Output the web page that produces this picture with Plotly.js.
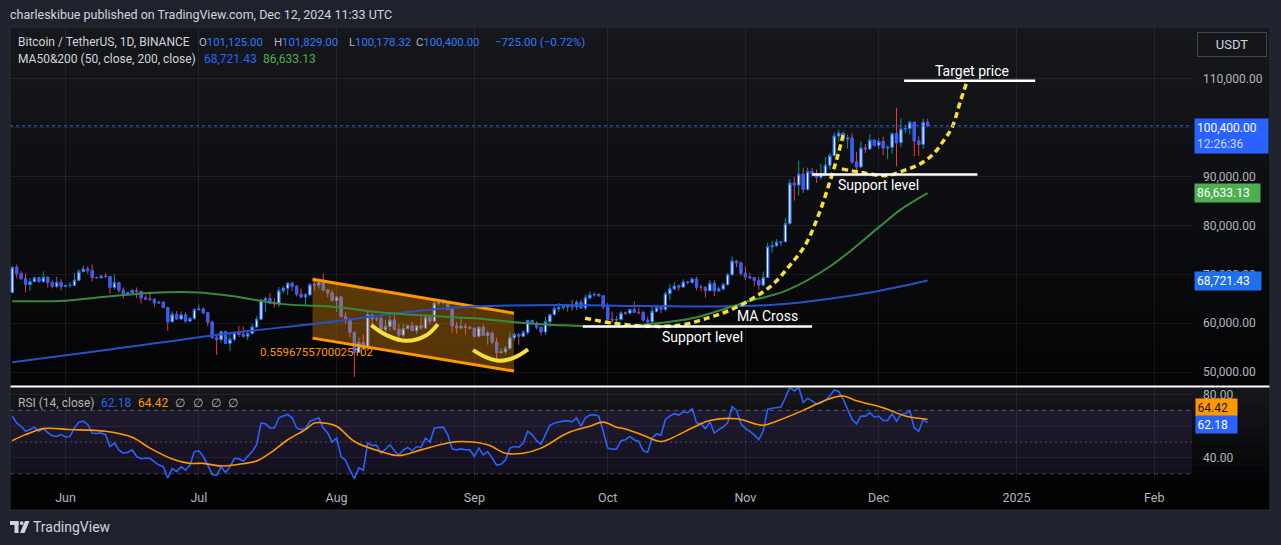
<!DOCTYPE html>
<html>
<head>
<meta charset="utf-8">
<script src="https://cdn.plot.ly/plotly-3.0.1.min.js"></script>
<style>
html,body{margin:0;padding:0;background:#1f222c;overflow:hidden;}
#chart{width:1281px;height:545px;}
</style>
</head>
<body>
<div id="chart"></div>
<script>
// ================= DATA =================
// Daily BTC/USDT candles, 2024-05-20 .. 2024-12-12
const firstDay = [2024, 4, 20];
const open = [
66270,71446,70136,69122,67929,68526,69265,68518,69394,68296,67579,68364,
67491,67706,67751,68804,70567,71082,70757,69342,69305,69648,69540,67314,68263,66773,66043,66228,66676,66504,65175,64974,64869,64143,64262,63210,60277,61806,60864,61706,60427,60986,
62772,62899,62135,60208,57050,56628,58230,55857,56714,58050,57725,57339,57889,59204,60797,64724,65043,64087,63987,66660,67139,68165,67532,65936,65372,65777,67912,67813,68255,66819,66201,
64619,65357,61415,60680,58116,53991,56034,55027,61710,60880,60945,58719,59354,60610,58739,57560,58894,59478,58483,59493,59012,61159,60381,64094,64178,64220,62834,59416,59034,59359,59123,
58974,57301,59132,57487,57970,56160,53962,54160,54869,57043,57650,57343,58127,60571,60005,59182,58213,60314,61759,62947,63201,63348,63578,63339,64262,63143,65181,65790,65887,65604,
63327,60805,60650,60752,62086,62058,62819,62224,62160,60636,60274,62445,63193,62851,66047,67041,67612,67399,68418,68362,69002,67367,67362,66653,68161,66642,67014,67929,69907,72720,72339,
70215,69482,69289,68742,67811,69359,75639,75904,76538,76688,80370,88647,88265,90487,87386,91032,90586,89855,90464,92310,94286,98317,98892,97672,97900,93010,91965,95863,95643,97460,
96407,97185,95840,96002,98768,96945,99740,99831,101109,97276,96593,101125
];
const high = [
71515,71980,70625,70220,69250,69560,69510,70600,69560,68900,69500,69000,
67860,68410,70288,71063,71758,71625,71997,69582,69850,70195,69567,69999,68449,67320,66402,66998,67298,66588,65727,66483,65066,64546,64524,63369,62435,62487,62389,62225,61224,63058,
63862,63288,62285,60498,57546,58475,58449,58236,58296,59470,59359,58526,59850,61420,64900,65388,66128,65133,67386,67598,68366,68480,67800,67102,66175,68200,69399,68318,70079,66987,66810,
65659,65596,62198,61117,58305,57040,57726,62745,61800,61473,61858,60680,61572,61800,59850,59817,59700,60262,59618,61396,61820,61400,64955,64521,65000,64481,63212,60234,61166,59944,59462,
59063,59425,59809,58519,58327,56995,54850,55318,58088,58044,57994,58588,60670,60656,60381,59210,61320,61786,63850,64133,63559,64000,64745,64688,64817,65839,66498,66260,66076,65623,
64130,62392,61469,62484,62370,62975,64478,63200,62543,61321,63417,63480,63285,66500,67950,68424,67939,68969,68668,69400,69520,67836,67472,68850,68771,67454,68332,70270,73620,72961,72700,
71632,70338,69389,69480,70577,76460,76849,77199,76770,81500,89530,89940,93265,91790,91850,91779,91449,92594,94002,94831,98984,99588,98900,98564,98871,94973,97208,96650,98693,97463,
97836,98130,96305,99000,104088,101898,100439,101350,101215,98270,101895,101829
];
const low = [
66060,69160,68900,66300,66600,68390,68240,68230,67280,67125,67120,66670,
67390,67257,67612,68567,70383,70119,68500,69183,69132,69230,66051,66903,66251,65057,65872,66035,65130,64060,64694,64547,63379,63943,63178,58402,60240,60712,60606,60063,60383,60712,
62497,61806,59400,56771,53485,56018,55725,54260,56289,57157,57052,56542,57756,59204,60632,62373,63854,63238,63300,66222,65777,66573,65441,65111,63456,65754,66676,67066,66483,65323,64532,
62302,61130,59850,57122,49000,53969,54558,54730,59575,60288,58286,57634,58478,58433,56138,57098,58785,58418,57787,58610,58783,59724,60345,63574,63784,62800,58034,57860,58713,57701,58744,
57201,57128,57415,55606,55643,52550,53745,53629,54591,56386,55567,57324,57634,59570,58696,57493,57610,59174,61555,62350,62758,62357,62538,62700,62947,62670,64819,65422,65432,62856,
60164,60000,59828,60459,61689,61798,62128,61824,60301,58946,60052,62220,62050,62443,64800,66750,66666,67178,68024,68105,66750,66571,65260,66559,65521,66439,66700,67618,69730,71436,69685,
68820,69027,67478,66835,67458,69322,74416,75555,75772,76492,80216,85072,86127,86668,87073,90056,88722,89376,90357,91500,94100,97122,97155,95734,92600,90791,91792,94827,95407,96092,
95693,94395,93578,94660,92120,95981,98845,98657,94150,94256,95658,100178
];
const close = [
71446,70136,69122,67929,68526,69265,68518,69394,68296,67579,68364,67491,
67706,67751,68804,70567,71082,70757,69342,69305,69648,69540,67314,68263,66773,66043,66228,66676,66504,65175,64974,64869,64143,64262,63210,60277,61806,60864,61706,60427,60986,62772,
62899,62135,60208,57050,56628,58230,55857,56714,58050,57725,57339,57889,59204,60797,64724,65043,64087,63987,66660,67139,68165,67532,65936,65372,65777,67912,67813,68255,66819,66201,64619,
65357,61415,60680,58116,53991,56034,55027,61710,60880,60945,58719,59354,60610,58739,57560,58894,59478,58483,59493,59012,61159,60381,64094,64178,64220,62834,59416,59034,59359,59123,58974,
57301,59132,57487,57970,56160,53962,54160,54869,57043,57650,57343,58127,60571,60005,59182,58213,60314,61759,62947,63201,63348,63578,63339,64262,63143,65181,65790,65887,65604,63327,
60805,60650,60752,62086,62058,62819,62224,62160,60636,60274,62445,63193,62851,66047,67041,67612,67399,68418,68362,69002,67367,67362,66653,68161,66642,67014,67929,69907,72720,72339,70215,
69482,69289,68742,67811,69359,75639,75904,76538,76688,80370,88647,88265,90487,87386,91032,90586,89855,90464,92310,94286,98317,98892,97672,97900,93010,91965,95863,95643,97460,96407,
97185,95840,96002,98768,96945,99740,99831,101109,97276,96593,101125,100400
];

// RSI(14) per candle
const rsi = [
66.4,62.1,60.0,56.8,58.0,59.4,56.8,58.5,56.0,54.0,53.6,54.7,
53.2,53.6,58.9,62.5,63.2,61.1,55.7,55.4,55.7,54.7,47.2,49.4,45.1,43.0,43.5,45.1,40.9,39.5,39.8,39.8,37.5,35.5,34.5,27.4,33.4,31.3,34.5,32.3,35.5,44.0,
44.5,40.9,35.5,29.6,29.1,34.5,30.9,34.5,39.8,39.4,38.1,40.9,44.0,48.3,62.1,61.5,58.9,58.9,65.3,66.5,67.4,65.3,58.9,57.9,58.5,63.2,64.3,65.3,58.9,55.7,50.0,
52.6,40.9,38.7,32.3,27.0,33.8,32.3,49.4,47.9,47.9,43.0,45.5,48.3,44.5,41.9,45.0,46.6,44.5,47.2,46.6,52.6,50.0,58.9,59.2,59.4,54.7,45.7,45.1,45.7,45.2,45.1,
40.9,46.2,41.9,44.0,40.0,35.5,36.0,38.7,46.2,47.2,46.8,49.4,56.8,54.7,50.9,48.7,54.7,60.6,62.0,62.8,63.2,63.5,62.8,65.3,60.0,65.3,67.0,67.2,66.4,56.8,
46.2,45.5,45.7,50.9,51.5,53.6,51.5,50.4,44.5,43.6,52.6,55.1,54.3,64.3,66.4,67.9,67.0,69.1,68.5,71.1,62.1,61.5,58.5,62.8,55.7,57.9,59.5,62.1,72.3,70.0,61.5,
58.5,56.8,54.5,51.5,56.8,70.6,71.3,71.8,72.1,78.1,84.5,82.3,84.5,74.9,77.7,76.0,73.8,74.5,76.4,79.1,82.8,81.9,77.0,70.6,64.3,61.5,66.4,66.4,68.5,65.7,
66.4,63.6,63.6,67.9,63.2,67.4,68.0,69.6,58.9,56.8,64.3,62.18
];

// RSI smoothing line (orange), sampled
const rsiMaDates = ['2024-05-20','2024-05-23','2024-05-27','2024-06-02','2024-06-10','2024-06-16','2024-06-20','2024-06-25','2024-06-29','2024-07-02','2024-07-06','2024-07-10','2024-07-14','2024-07-17','2024-07-21','2024-07-25','2024-07-27','2024-07-29','2024-08-01','2024-08-05','2024-08-11','2024-08-15','2024-08-20','2024-08-26','2024-08-29','2024-09-04','2024-09-08','2024-09-12','2024-09-16','2024-09-22','2024-09-27','2024-09-30','2024-10-03','2024-10-05','2024-10-09','2024-10-13','2024-10-17','2024-10-20','2024-10-24','2024-10-30','2024-11-05','2024-11-08','2024-11-14','2024-11-19','2024-11-23','2024-11-26','2024-12-02','2024-12-07','2024-12-12'];
const rsiMaVals = [50.9,54.7,58.5,57.9,56.8,53.0,46.2,39.4,36.6,36.6,34.9,36.0,38.1,43.0,51.5,57.9,62.1,62.1,60.0,50.4,44.0,41.5,45.1,49.4,50.4,48.3,43.0,43.0,46.2,55.7,60.0,62.6,59.4,58.3,54.3,50.4,54.7,58.9,63.6,64.7,60.6,63.2,70.0,76.4,79.1,76.0,71.7,66.4,64.42];

// Moving averages, sampled
const ma50Dates = ['2024-05-20','2024-06-01','2024-06-10','2024-06-20','2024-07-01','2024-07-08','2024-07-20','2024-08-01','2024-08-10','2024-08-20','2024-09-01','2024-09-10','2024-09-20','2024-10-01','2024-10-10','2024-10-20','2024-11-01','2024-11-10','2024-11-20','2024-12-01','2024-12-06','2024-12-12'];
const ma50Vals = [64500,64600,65400,66200,66300,65600,63900,63300,62300,61600,61000,60200,59600,59300,59800,61000,64300,66600,71600,79600,83300,86633.13];
const ma200Dates = ['2024-05-20','2024-06-11','2024-07-05','2024-08-01','2024-08-20','2024-09-01','2024-09-20','2024-10-10','2024-10-25','2024-11-08','2024-11-20','2024-12-01','2024-12-12'];
const ma200Vals = [52000,54600,57600,60400,62600,63400,63700,63500,63400,63800,65000,66600,68721.43];

// Axis ticks
const monthTicks = ['2024-06-01','2024-07-01','2024-08-01','2024-09-01','2024-10-01','2024-11-01','2024-12-01','2025-01-01','2025-02-01'];
const monthLabels = ['Jun','Jul','Aug','Sep','Oct','Nov','Dec','2025','Feb'];
const priceTicks = [50000,60000,70000,80000,90000,100000,110000];
const priceLabels = ['50,000.00','60,000.00','70,000.00','80,000.00','90,000.00','','110,000.00'];

// Hand drawings on the chart (date, price anchors)
const channelX = ['2024-07-26 14:00','2024-09-09 22:00','2024-09-09 22:00','2024-07-26 14:00'];
const channelY = [68980, 62040, 50200, 56940];
const arc1X = ['2024-08-08 19:00','2024-08-12 05:00','2024-08-16 17:00','2024-08-21 05:00','2024-08-23 19:00'];
const arc1Y = [59592, 57551, 56394, 57551, 59796];
const arc2X = ['2024-08-31 17:00','2024-09-03 17:00','2024-09-06 17:00','2024-09-10 02:00','2024-09-13 02:00'];
const arc2Y = [54490, 53000, 52306, 53000, 54633];
const dash1X = ['2024-09-25 22:00','2024-10-02 05:00','2024-10-09 19:00','2024-10-17 07:00','2024-10-23 10:00','2024-10-28 12:00','2024-11-02 17:00','2024-11-07 05:00','2024-11-11 00:00','2024-11-14 10:00','2024-11-17 10:00','2024-11-20 02:00','2024-11-21 22:00','2024-11-23 05:00'];
const dash1Y = [61020,60000,59388,59592,61020,62653,65102,67959,71837,75918,82041,89184,94694,99388];
const dash2X = ['2024-11-22 17:00','2024-11-26 19:00','2024-12-02 19:00','2024-12-06 14:00','2024-12-10 07:00','2024-12-13 07:00','2024-12-15 14:00','2024-12-17 12:00','2024-12-19 10:00','2024-12-20 19:00'];
const dash2Y = [91571,90878,90204,91224,92592,94633,97347,100061,105510,109245];

// ================= BUILD =================
const dates = open.map((_, i) => new Date(Date.UTC(firstDay[0], firstDay[1], firstDay[2] + i)).toISOString().slice(0, 10));
const bodyTop = open.map((o, i) => Math.max(o, close[i]));
const bodyBot = open.map((o, i) => Math.min(o, close[i]));

const W = 1281, H = 545;
const X = v => v / W;
const Y = v => 1 - v / H;

const BLUE = '#2962ff';
const traces = [
  {type:'scatter', x:channelX, y:channelY, fill:'toself', fillcolor:'rgba(255,152,0,0.33)', line:{width:0}, mode:'lines', hoverinfo:'skip', xaxis:'x', yaxis:'y'},
  {type:'scatter', x:[channelX[0],channelX[1]], y:[channelY[0],channelY[1]], mode:'lines', line:{color:'#ff9800', width:3}, hoverinfo:'skip', xaxis:'x', yaxis:'y'},
  {type:'scatter', x:[channelX[3],channelX[2]], y:[channelY[3],channelY[2]], mode:'lines', line:{color:'#ff9800', width:3}, hoverinfo:'skip', xaxis:'x', yaxis:'y'},
  {type:'scatter', x:ma200Dates, y:ma200Vals, mode:'lines', line:{color:'#2552c8', width:2, shape:'spline'}, hoverinfo:'skip', xaxis:'x', yaxis:'y'},
  {type:'scatter', x:ma50Dates, y:ma50Vals, mode:'lines', line:{color:'#3a8a3d', width:2, shape:'spline'}, hoverinfo:'skip', xaxis:'x', yaxis:'y'},
  {type:'candlestick', x:dates, open:open, high:high, low:low, close:close,
   increasing:{line:{color:'#089981', width:1}, fillcolor:'#089981'},
   decreasing:{line:{color:'#f23645', width:1}, fillcolor:'#f23645'},
   hoverinfo:'skip', xaxis:'x', yaxis:'y'},
  {type:'candlestick', x:dates, open:open, high:bodyTop, low:bodyBot, close:close,
   increasing:{line:{color:BLUE, width:1}, fillcolor:'#ffffff'},
   decreasing:{line:{color:BLUE, width:1}, fillcolor:BLUE},
   hoverinfo:'skip', xaxis:'x', yaxis:'y'},
  {type:'scatter', x:arc1X, y:arc1Y, mode:'lines', line:{color:'#f5e03b', width:4, shape:'spline'}, hoverinfo:'skip', xaxis:'x', yaxis:'y'},
  {type:'scatter', x:arc2X, y:arc2Y, mode:'lines', line:{color:'#f5e03b', width:4, shape:'spline'}, hoverinfo:'skip', xaxis:'x', yaxis:'y'},
  {type:'scatter', x:dash1X, y:dash1Y, mode:'lines', line:{color:'#f5e03b', width:3.5, shape:'spline', dash:'6px,4px'}, hoverinfo:'skip', xaxis:'x', yaxis:'y'},
  {type:'scatter', x:dash2X, y:dash2Y, mode:'lines', line:{color:'#f5e03b', width:3.5, shape:'spline', dash:'6px,4px'}, hoverinfo:'skip', xaxis:'x', yaxis:'y'},
  {type:'scatter', x:dates, y:rsi, mode:'lines', line:{color:BLUE, width:1.6}, hoverinfo:'skip', xaxis:'x', yaxis:'y2'},
  {type:'scatter', x:rsiMaDates, y:rsiMaVals, mode:'lines', line:{color:'#ff9800', width:1.6, shape:'spline'}, hoverinfo:'skip', xaxis:'x', yaxis:'y2'}
];

// background gradient bands
function bands(y0, y1, c0, c1, n) {
  const out = [];
  for (let k = 0; k < n; k++) {
    const t = k / (n - 1);
    const c = c0.map((v, j) => Math.round(v + (c1[j] - v) * t));
    out.push({type:'rect', xref:'paper', yref:'paper', layer:'below',
      x0:X(10), x1:X(1270), y0:Y(y0 + (y1 - y0) * (k + 1) / n), y1:Y(y0 + (y1 - y0) * k / n),
      fillcolor:`rgb(${c[0]},${c[1]},${c[2]})`, line:{width:0}});
  }
  return out;
}
const shapes = [
  ...bands(27, 387, [22,23,28], [4,4,6], 30),
  ...bands(387, 480, [21,22,27], [5,5,7], 12),
  {type:'rect', xref:'paper', yref:'paper', layer:'below', x0:X(10), x1:X(1270), y0:Y(510), y1:Y(480), fillcolor:'#030304', line:{width:0}},
  {type:'rect', xref:'paper', yref:'y2', layer:'below', x0:X(10), x1:X(1192), y0:30, y1:70, fillcolor:'rgba(126,87,194,0.13)', line:{width:0}},
  {type:'line', xref:'paper', yref:'y2', x0:X(10), x1:X(1192), y0:70, y1:70, line:{color:'rgba(140,143,155,0.55)', width:1, dash:'4px,4px'}},
  {type:'line', xref:'paper', yref:'y2', x0:X(10), x1:X(1192), y0:50, y1:50, line:{color:'rgba(140,143,155,0.45)', width:1, dash:'2px,3px'}},
  {type:'line', xref:'paper', yref:'y2', x0:X(10), x1:X(1192), y0:30, y1:30, line:{color:'rgba(140,143,155,0.45)', width:1, dash:'4px,4px'}},
  {type:'line', xref:'paper', yref:'paper', x0:X(10), x1:X(1270), y0:Y(386.5), y1:Y(386.5), line:{color:'#ffffff', width:2}},
  {type:'line', xref:'paper', yref:'y', x0:X(10), x1:X(1192), y0:100400, y1:100400, line:{color:BLUE, width:1, dash:'dot'}},
  {type:'rect', xref:'paper', yref:'paper', x0:X(10), x1:X(1270), y0:Y(510), y1:Y(27), line:{color:'#2a2e39', width:1}},
  // drawn horizontal levels
  {type:'line', xref:'x', yref:'y', x0:'2024-12-06 17:00', x1:'2025-01-05 05:00', y0:109592, y1:109592, line:{color:'#ffffff', width:2.5}},
  {type:'line', xref:'x', yref:'y', x0:'2024-11-16 00:00', x1:'2024-12-23 05:00', y0:90408, y1:90408, line:{color:'#ffffff', width:2.5}},
  {type:'line', xref:'x', yref:'y', x0:'2024-09-25 10:00', x1:'2024-11-16 00:00', y0:59300, y1:59300, line:{color:'#ffffff', width:2.5}},
  // TradingView logo
  {type:'rect', xref:'paper', yref:'paper', x0:X(10), x1:X(18.5), y0:Y(525), y1:Y(521), fillcolor:'#d1d4dc', line:{width:0}},
  {type:'rect', xref:'paper', yref:'paper', x0:X(14.5), x1:X(18.5), y0:Y(533), y1:Y(521), fillcolor:'#d1d4dc', line:{width:0}},
  {type:'circle', xref:'paper', yref:'paper', x0:X(19.8), x1:X(23.6), y0:Y(525), y1:Y(521.2), fillcolor:'#d1d4dc', line:{width:0}},
  {type:'path', xref:'paper', yref:'paper', path:`M ${X(25)},${Y(521)} L ${X(29.5)},${Y(521)} L ${X(24.5)},${Y(533)} L ${X(20)},${Y(533)} Z`, fillcolor:'#d1d4dc', line:{width:0}}
];

const txt = (x, y, text, color, size, extra) => Object.assign({xref:'paper', yref:'paper', x:X(x), y:Y(y), xanchor:'left', yanchor:'middle', text, showarrow:false, font:{color, size}}, extra || {});
const g = '#b2b5be', bl = '#2f7bff';
const val = (k, v) => `<span style="color:${g}">${k}</span><span style="color:${bl}">${v}</span>`;
const annotations = [
  txt(8, 14, 'charleskibue published on TradingView.com, Dec 12, 2024 11:33 UTC', '#d1d4dc', 12.5),
  txt(16, 42, 'Bitcoin / TetherUS, 1D, BINANCE', '#d1d4dc', 12),
  txt(197, 42, val('O', '101,125.00'), bl, 11.3),
  txt(272, 42, val('H', '101,829.00'), bl, 11.3),
  txt(347, 42, val('L', '100,178.32'), bl, 11.3),
  txt(414, 42, val('C', '100,400.00'), bl, 11.3),
  txt(493, 42, '−725.00 (−0.72%)', bl, 11.5),
  txt(16, 59, 'MA50&amp;200 (50, close, 200, close)', '#d1d4dc', 12),
  txt(202, 59, '68,721.43', BLUE, 12),
  txt(261, 59, '86,633.13', '#4caf50', 12),
  txt(16, 403, 'RSI (14, close)', '#b2b5be', 12),
  txt(99, 403, '62.18', BLUE, 12),
  txt(136, 403, '64.42', '#ff9800', 12),
  txt(173, 403, '∅', g, 12), txt(191, 403, '∅', g, 12), txt(209, 403, '∅', g, 12), txt(226, 403, '∅', g, 12),
  txt(31, 527, 'TradingView', '#d1d4dc', 14),
  // right axis tags
  {xref:'paper', yref:'paper', x:X(1232), y:Y(44), xanchor:'center', yanchor:'middle', text:'USDT', showarrow:false, font:{color:'#d1d4dc', size:13}, bordercolor:'#434651', borderwidth:1, borderpad:4, width:60},
  {xref:'paper', yref:'y', x:X(1194), y:100400, xanchor:'left', yanchor:'top', yshift:8, text:'100,400.00<br><span style="color:#c9d6ff">12:26:36</span>', align:'left', showarrow:false, font:{color:'#ffffff', size:12}, bgcolor:BLUE, borderpad:2, width:69},
  {xref:'paper', yref:'y', x:X(1194), y:86633.13, xanchor:'left', yanchor:'middle', text:'86,633.13', align:'left', showarrow:false, font:{color:'#ffffff', size:12}, bgcolor:'#4caf50', borderpad:2, width:61},
  {xref:'paper', yref:'y', x:X(1194), y:68721.43, xanchor:'left', yanchor:'middle', text:'68,721.43', align:'left', showarrow:false, font:{color:'#ffffff', size:12}, bgcolor:'#1e6ff0', borderpad:2, width:62},
  {xref:'paper', yref:'paper', x:X(1195), y:Y(407.5), xanchor:'left', yanchor:'middle', text:'64.42', align:'left', showarrow:false, font:{color:'#131722', size:12}, bgcolor:'#ff9800', borderpad:1.5, width:38},
  {xref:'paper', yref:'paper', x:X(1195), y:Y(424), xanchor:'left', yanchor:'middle', text:'62.18', align:'left', showarrow:false, font:{color:'#ffffff', size:12}, bgcolor:BLUE, borderpad:1.5, width:38},
  // drawing labels
  {xref:'x', yref:'y', x:'2024-12-22', y:109592, yanchor:'bottom', yshift:0, text:'Target price', showarrow:false, font:{color:'#ffffff', size:14}},
  {xref:'x', yref:'y', x:'2024-12-01 01:00', y:88367, yanchor:'middle', text:'Support level', showarrow:false, font:{color:'#ffffff', size:14}},
  {xref:'x', yref:'y', x:'2024-11-05 22:00', y:61429, yanchor:'middle', text:'MA Cross', showarrow:false, font:{color:'#ffffff', size:14}},
  {xref:'x', yref:'y', x:'2024-10-22 07:00', y:57143, yanchor:'middle', text:'Support level', showarrow:false, font:{color:'#ffffff', size:14}},
  {xref:'x', yref:'y', x:'2024-07-14 07:00', y:54082, xanchor:'left', yanchor:'middle', text:'0.5596755700025102', showarrow:false, font:{color:'#ff9800', size:11.5}}
];

const gridC = 'rgba(255,255,255,0.065)';
const layout = {
  width:W, height:H,
  margin:{l:0, r:0, t:0, b:0},
  paper_bgcolor:'#1f222c',
  plot_bgcolor:'rgba(0,0,0,0)',
  font:{family:'Roboto, "Liberation Sans", Arial, sans-serif', color:'#b2b5be', size:12},
  showlegend:false,
  dragmode:false,
  hovermode:false,
  xaxis:{type:'date', domain:[X(10), X(1192)], range:['2024-05-19 12:00','2025-02-09 12:00'], anchor:'y2',
    tickvals:monthTicks, ticktext:monthLabels, showgrid:true, gridcolor:gridC, ticks:'', showline:false, zeroline:false,
    tickfont:{color:'#b2b5be', size:12.5}, ticklabelstandoff:8, rangeslider:{visible:false}, fixedrange:true},
  yaxis:{domain:[Y(387), Y(27)], range:[46939, 120612], side:'right', anchor:'x', tickvals:priceTicks, ticktext:priceLabels,
    showgrid:true, gridcolor:gridC, ticks:'', showline:false, zeroline:false, ticklabelstandoff:10,
    tickfont:{color:'#b2b5be', size:12}, fixedrange:true},
  yaxis2:{domain:[Y(480), Y(388)], range:[26.1, 84.1], side:'right', anchor:'x', tickvals:[40,60,80], ticktext:['40.00','','80.00'],
    showgrid:true, gridcolor:gridC, ticks:'', showline:false, zeroline:false, ticklabelstandoff:10,
    tickfont:{color:'#b2b5be', size:12}, fixedrange:true},
  shapes, annotations
};

Plotly.newPlot('chart', traces, layout, {staticPlot:true, displayModeBar:false});
</script>
</body>
</html>
